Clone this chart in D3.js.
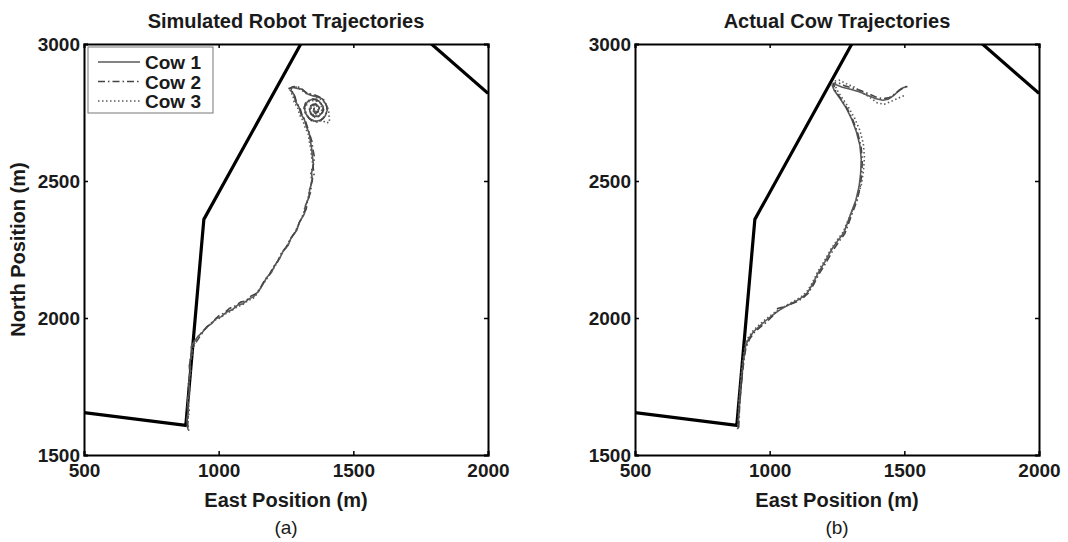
<!DOCTYPE html>
<html>
<head>
<meta charset="utf-8">
<script src="https://cdn.jsdelivr.net/npm/d3@7"></script>
<style>
  body { margin: 0; background: #fff; }
  text { font-family: "Liberation Sans", Arial, sans-serif; fill: #1a1a1a; }
</style>
</head>
<body>
<svg id="chart" width="1068" height="542"></svg>
<script>
//axis ticks
var xTicks = [500, 1000, 1500, 2000];
var yTicks = [1500, 2000, 2500, 3000];

//paddock fence (east, north)
var fenceWest = [[500, 1655], [878, 1608], [945, 2360], [1305, 3000]];
var fenceEast = [[1790, 3000], [2000, 2820]];

//simulated robot trajectories
var simCow1 = [[886,1592],[882,1630],[888,1665],[884,1700],[891,1735],[889,1770],[895,1805],[893,1840],[900,1870],[898,1895],
  [910,1915],[925,1935],[940,1948],[955,1968],[975,1980],[990,1998],[1010,2005],[1030,2022],[1050,2030],[1072,2048],
  [1090,2052],[1112,2070],[1130,2078],[1150,2100],[1165,2125],[1180,2150],[1195,2165],[1210,2195],[1225,2215],[1240,2245],
  [1258,2265],[1270,2295],[1290,2320],[1300,2350],[1318,2380],[1322,2410],[1335,2440],[1338,2470],[1348,2500],[1345,2530],
  [1352,2560],[1348,2590],[1345,2620],[1340,2650],[1336,2675],[1325,2700],[1318,2725],[1305,2745],[1298,2770],[1285,2790],
  [1280,2815],[1268,2830],[1272,2842],[1292,2838],[1310,2835],[1328,2818],[1345,2812],[1362,2808],[1385,2800],[1398,2780],
  [1404,2762],[1396,2738],[1380,2722],[1358,2718],[1336,2728],[1322,2748],[1318,2770],[1330,2790],[1350,2800],[1372,2792],
  [1388,2772],[1386,2750],[1370,2735],[1350,2738],[1338,2755],[1342,2775],[1360,2782],[1374,2768],[1368,2752],[1352,2756],
  [1356,2768]];
var simCow2 = [[884,1600],[887,1640],[883,1680],[890,1715],[886,1750],[894,1790],[891,1825],[897,1860],[903,1890],[915,1910],
  [930,1932],[946,1955],[962,1972],[980,1988],[1000,2008],[1020,2018],[1040,2035],[1062,2045],[1082,2058],[1100,2062],
  [1120,2080],[1140,2090],[1158,2115],[1172,2140],[1188,2158],[1202,2185],[1218,2205],[1232,2235],[1250,2258],[1264,2285],
  [1282,2310],[1296,2340],[1310,2370],[1325,2398],[1330,2430],[1342,2460],[1344,2495],[1354,2525],[1350,2555],[1356,2585],
  [1350,2615],[1346,2645],[1338,2670],[1330,2695],[1322,2720],[1310,2740],[1302,2765],[1290,2785],[1283,2808],[1274,2825],
  [1262,2838],[1280,2845],[1300,2842],[1318,2828],[1335,2815],[1352,2816],[1372,2808],[1392,2795],[1402,2772],[1400,2748],
  [1388,2728],[1368,2716],[1345,2720],[1328,2738],[1316,2760],[1322,2784],[1340,2798],[1362,2798],[1380,2782],[1390,2760],
  [1378,2740],[1358,2732],[1342,2744],[1336,2765],[1350,2780],[1368,2776],[1376,2758],[1360,2746],[1348,2760],[1362,2768]];
var simCow3 = [[889,1588],[885,1625],[891,1660],[887,1695],[893,1730],[890,1765],[897,1800],[894,1835],[901,1865],[906,1900],
  [918,1920],[932,1942],[948,1958],[966,1975],[985,1992],[1005,2000],[1025,2015],[1045,2025],[1068,2040],[1088,2048],
  [1108,2063],[1128,2072],[1146,2092],[1162,2120],[1178,2142],[1192,2162],[1208,2188],[1222,2210],[1236,2240],[1254,2262],
  [1268,2290],[1285,2315],[1298,2345],[1314,2375],[1320,2405],[1332,2435],[1336,2465],[1346,2495],[1342,2528],[1350,2558],
  [1345,2588],[1342,2618],[1336,2648],[1332,2672],[1320,2698],[1312,2722],[1300,2742],[1293,2768],[1280,2788],[1276,2812],
  [1265,2826],[1268,2840],[1288,2843],[1306,2833],[1322,2820],[1342,2818],[1360,2805],[1380,2798],[1396,2785],[1408,2760],
  [1410,2735],[1412,2715],[1398,2712],[1385,2722],[1365,2715],[1342,2722],[1326,2742],[1320,2768],[1335,2790],[1355,2795],
  [1378,2785],[1384,2762],[1375,2742],[1355,2738],[1340,2752],[1345,2772],[1362,2778],[1370,2760],[1355,2752]];

//actual cow trajectories
var actCow1 = [[883,1597],[885,1650],[888,1700],[892,1750],[897,1800],[903,1850],[910,1895],[922,1925],[940,1950],[960,1968],
  [985,1990],[1010,2010],[1035,2028],[1065,2045],[1095,2060],[1120,2075],[1140,2092],[1160,2125],[1180,2165],[1205,2205],
  [1230,2250],[1255,2285],[1275,2310],[1290,2350],[1305,2390],[1320,2430],[1332,2480],[1338,2530],[1340,2580],[1335,2630],
  [1322,2680],[1305,2725],[1285,2765],[1262,2800],[1240,2830],[1232,2850],[1245,2852],[1270,2842],[1300,2835],[1335,2825],
  [1365,2812],[1395,2800],[1420,2795],[1440,2798],[1460,2812],[1478,2828],[1495,2840],[1512,2845]];
var actCow2 = [[885,1600],[887,1650],[890,1700],[894,1750],[899,1800],[905,1850],[912,1892],[925,1922],[942,1946],[963,1965],
  [988,1985],[1012,2008],[1030,2035],[1050,2040],[1070,2048],[1098,2058],[1122,2072],[1143,2090],[1163,2122],[1184,2162],
  [1208,2200],[1234,2245],[1258,2280],[1279,2308],[1294,2348],[1309,2388],[1324,2428],[1336,2478],[1342,2528],[1344,2578],
  [1339,2628],[1326,2678],[1309,2722],[1289,2762],[1266,2798],[1245,2828],[1236,2856],[1252,2860],[1278,2848],[1305,2840],
  [1338,2830],[1368,2818],[1398,2805],[1422,2800],[1445,2805],[1465,2818],[1482,2832],[1500,2842],[1508,2846]];
var actCow3 = [[881,1594],[884,1650],[886,1700],[891,1750],[895,1800],[901,1850],[908,1898],[920,1928],[938,1953],[958,1972],
  [982,1993],[1008,2012],[1033,2030],[1063,2047],[1093,2063],[1118,2078],[1138,2096],[1158,2128],[1178,2168],[1203,2208],
  [1228,2252],[1253,2288],[1273,2314],[1290,2355],[1308,2395],[1325,2435],[1340,2485],[1348,2535],[1352,2585],[1348,2635],
  [1335,2685],[1315,2730],[1292,2770],[1268,2805],[1248,2835],[1240,2865],[1258,2868],[1285,2855],[1315,2842],[1345,2822],
  [1372,2805],[1400,2785],[1425,2780],[1450,2790],[1472,2800],[1490,2808],[1502,2812]];

var cowNames = ["Cow 1", "Cow 2", "Cow 3"];
var cowDash = [null, "7,3,1.5,3", "1.5,2.5"];

var panels = [
  {left: 84, title: "Simulated Robot Trajectories", tag: "(a)", cows: [simCow1, simCow2, simCow3], yTitle: true, legend: true},
  {left: 635, title: "Actual Cow Trajectories", tag: "(b)", cows: [actCow1, actCow2, actCow3], yTitle: false, legend: false}
];

var plotW = 404, plotH = 411, plotTop = 44;
var svg = d3.select("#chart");

var line = d3.line();

panels.forEach(function(p, i) {
  var x = d3.scaleLinear().domain([500, 2000]).range([0, plotW]);
  var y = d3.scaleLinear().domain([1500, 3000]).range([plotH, 0]);
  line.x(function(d) { return x(d[0]); }).y(function(d) { return y(d[1]); });

  var g = svg.append("g").attr("transform", "translate(" + p.left + "," + plotTop + ")");

  g.append("clipPath").attr("id", "clip" + i)
    .append("rect").attr("width", plotW).attr("height", plotH);

  var plot = g.append("g").attr("clip-path", "url(#clip" + i + ")");

  //fence
  [fenceWest, fenceEast].forEach(function(f) {
    plot.append("path")
      .attr("d", line(f))
      .attr("fill", "none")
      .attr("stroke", "#000")
      .attr("stroke-width", 3.2)
      .attr("stroke-linejoin", "round");
  });

  //cows
  p.cows.forEach(function(c, k) {
    plot.append("path")
      .attr("d", line(c))
      .attr("fill", "none")
      .attr("stroke", k == 1 ? "#444" : "#5a5a5a")
      .attr("stroke-width", 1.6)
      .attr("stroke-dasharray", cowDash[k]);
  });

  //axes, ticks inward on all sides
  var fmt = d3.format("d");
  var ax = [
    {a: d3.axisBottom(x).tickValues(xTicks).tickFormat(fmt).tickSize(-4).tickPadding(9), t: "translate(0," + plotH + ")", lab: true},
    {a: d3.axisTop(x).tickValues(xTicks).tickFormat(fmt).tickSize(-4), t: null, lab: false},
    {a: d3.axisLeft(y).tickValues(yTicks).tickFormat(fmt).tickSize(-4).tickPadding(4), t: null, lab: true},
    {a: d3.axisRight(y).tickValues(yTicks).tickFormat(fmt).tickSize(-4), t: "translate(" + plotW + ",0)", lab: false}
  ];
  ax.forEach(function(o) {
    var sel = g.append("g").attr("transform", o.t).call(o.a);
    sel.select(".domain").attr("stroke", "#000").attr("stroke-width", 2);
    sel.selectAll(".tick line").attr("stroke", "#000").attr("stroke-width", 1.5);
    if (!o.lab) sel.selectAll(".tick text").remove();
    sel.selectAll(".tick text")
      .attr("fill", "#1a1a1a")
      .style("font-size", "19px")
      .style("font-weight", "bold")
      .style("font-family", "'Liberation Sans', Arial, sans-serif");
  });

  //titles
  g.append("text")
    .attr("x", plotW / 2).attr("y", -16)
    .attr("text-anchor", "middle")
    .style("font-size", "20px").style("font-weight", "bold")
    .text(p.title);

  g.append("text")
    .attr("x", plotW / 2).attr("y", plotH + 52)
    .attr("text-anchor", "middle")
    .style("font-size", "20px").style("font-weight", "bold")
    .text("East Position (m)");

  g.append("text")
    .attr("x", plotW / 2).attr("y", plotH + 79)
    .attr("text-anchor", "middle")
    .style("font-size", "19px")
    .text(p.tag);

  if (p.yTitle) {
    g.append("text")
      .attr("transform", "translate(" + (-59) + "," + (plotH / 2) + ") rotate(-90)")
      .attr("text-anchor", "middle")
      .style("font-size", "20px").style("font-weight", "bold")
      .text("North Position (m)");
  }

  if (p.legend) {
    var lg = g.append("g").attr("transform", "translate(4,3)");
    lg.append("rect")
      .attr("width", 125).attr("height", 66)
      .attr("fill", "#fff").attr("stroke", "#777").attr("stroke-width", 1);
    cowNames.forEach(function(n, k) {
      var ly = 15 + k * 19.5;
      lg.append("line")
        .attr("x1", 10).attr("x2", 52).attr("y1", ly).attr("y2", ly)
        .attr("stroke", k == 1 ? "#444" : "#5a5a5a").attr("stroke-width", 1.6)
        .attr("stroke-dasharray", cowDash[k]);
      lg.append("text")
        .attr("x", 57).attr("y", ly + 7)
        .style("font-size", "19px").style("font-weight", "bold")
        .text(n);
    });
  }
});
</script>
</body>
</html>
